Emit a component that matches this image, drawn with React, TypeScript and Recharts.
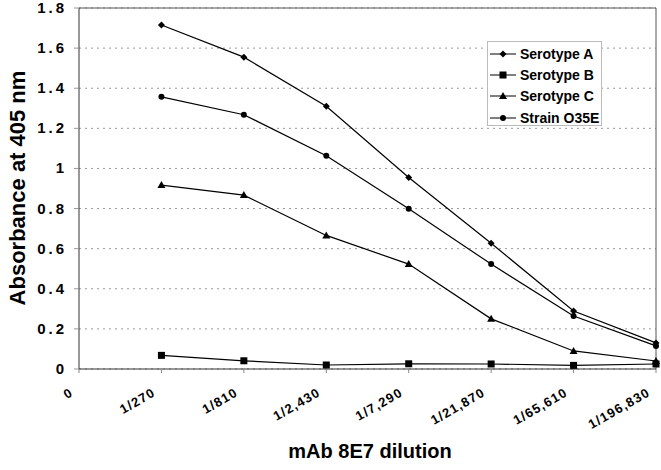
import React from "react";
import { LineChart, Line, XAxis, YAxis, CartesianGrid, ReferenceLine } from "recharts";

const categories = ["0", "1/270", "1/810", "1/2,430", "1/7,290", "1/21,870", "1/65,610", "1/196,830"];
const serotypeA = [null, 1.715, 1.555, 1.31, 0.955, 0.627, 0.289, 0.13];
const serotypeB = [null, 0.068, 0.041, 0.02, 0.026, 0.025, 0.018, 0.025];
const serotypeC = [null, 0.917, 0.867, 0.666, 0.523, 0.25, 0.09, 0.04];
const strainO35E = [null, 1.357, 1.268, 1.063, 0.799, 0.523, 0.264, 0.115];
const yTicks = [0, 0.2, 0.4, 0.6, 0.8, 1, 1.2, 1.4, 1.6, 1.8];

const seriesList = [
  { key: "a", name: "Serotype A", values: serotypeA, shape: "diamond" },
  { key: "b", name: "Serotype B", values: serotypeB, shape: "square" },
  { key: "c", name: "Serotype C", values: serotypeC, shape: "triangle" },
  { key: "o", name: "Strain O35E", values: strainO35E, shape: "circle" },
];

const data = categories.map((cat, i) => {
  const row: any = { cat };
  seriesList.forEach((s) => (row[s.key] = s.values[i]));
  return row;
});

const FONT = "'Liberation Sans', Arial, sans-serif";

const Marker = ({ shape, cx, cy }: { shape: string; cx: number; cy: number }) => {
  if (cx == null || cy == null) return null;
  if (shape === "square") return <rect x={cx - 3.5} y={cy - 3.5} width={7} height={7} fill="#000" />;
  if (shape === "triangle")
    return <polygon points={`${cx},${cy - 4} ${cx + 4},${cy + 3} ${cx - 4},${cy + 3}`} fill="#000" />;
  if (shape === "diamond")
    return <polygon points={`${cx},${cy - 3.5} ${cx + 3.5},${cy} ${cx},${cy + 3.5} ${cx - 3.5},${cy}`} fill="#000" />;
  return <circle cx={cx} cy={cy} r={3} fill="#000" />;
};

const XTick = (props: any) => {
  const { x, y, payload } = props;
  return (
    <g transform={`translate(${x - 5},${y + 20}) rotate(-30)`}>
      <text x={0} y={0} textAnchor="end" fontFamily={FONT} fontWeight="bold" fontSize={13} letterSpacing={1.2} fill="#000">
        {payload.value}
      </text>
    </g>
  );
};

const YTick = (props: any) => {
  const { x, y, payload } = props;
  return (
    <text
      x={x - 5}
      y={y + 5}
      textAnchor="end"
      fontFamily={FONT}
      fontWeight="bold"
      fontSize={15}
      letterSpacing={3}
      fill="#000"
    >
      {payload.value}
    </text>
  );
};

const LegendBox = () => (
  <div
    style={{
      position: "absolute",
      left: 487,
      top: 41,
      width: 115,
      height: 85,
      border: "1px solid #bbb",
      background: "#fff",
      fontFamily: FONT,
      fontWeight: "bold",
      fontSize: 14,
      whiteSpace: "nowrap",
      boxSizing: "border-box",
      padding: "1px 0 0 2px",
    }}
  >
    {seriesList.map((s) => (
      <div key={s.key} style={{ display: "flex", alignItems: "center", height: 21.3 }}>
        <svg width={26} height={10} style={{ flex: "none" }}>
          <line x1={0} y1={5} x2={26} y2={5} stroke="#000" strokeWidth={1} />
          <Marker shape={s.shape} cx={13} cy={5} />
        </svg>
        <span style={{ marginLeft: 4 }}>{s.name}</span>
      </div>
    ))}
  </div>
);

export default function App() {
  return (
    <div style={{ position: "absolute", left: 0, top: 0, width: 661, height: 470, background: "#fff" }}>
      <LineChart width={661} height={470} data={data} margin={{ top: 8, right: 5, bottom: 0, left: 0 }}>
        <CartesianGrid vertical={false} stroke="#999" strokeDasharray="2 4" />
        <XAxis
          dataKey="cat"
          interval={0}
          tick={(p: any) => <XTick {...p} />}
          tickLine={{ stroke: "#888" }}
          tickSize={4}
          axisLine={{ stroke: "#333" }}
          height={101}
          label={{
            content: () => (
              <text x={370} y={458} textAnchor="middle" fontFamily={FONT} fontWeight="bold" fontSize={20} fill="#000">
                mAb 8E7 dilution
              </text>
            ),
          }}
        />
        <YAxis
          domain={[0, 1.8]}
          ticks={yTicks}
          interval={0}
          tick={<YTick />}
          tickLine={{ stroke: "#999" }}
          tickSize={5}
          axisLine={{ stroke: "#333" }}
          width={79}
          label={{
            content: () => (
              <text
                x={25}
                y={188}
                transform="rotate(-90 25 188)"
                textAnchor="middle"
                fontFamily={FONT}
                fontWeight="bold"
                fontSize={22}
                fill="#000"
              >
                Absorbance at 405 nm
              </text>
            ),
          }}
        />
        <ReferenceLine y={1.8} stroke="#555" />
        <ReferenceLine x="1/196,830" stroke="#555" />
        {seriesList.map((s) => (
          <Line
            key={s.key}
            dataKey={s.key}
            name={s.name}
            type="linear"
            stroke="#000"
            strokeWidth={1.2}
            isAnimationActive={false}
            connectNulls={false}
            dot={(p: any) => <Marker key={`${s.key}-${p.index}`} shape={s.shape} cx={p.cx} cy={p.cy} />}
            activeDot={false}
          />
        ))}
      </LineChart>
      <LegendBox />
    </div>
  );
}
